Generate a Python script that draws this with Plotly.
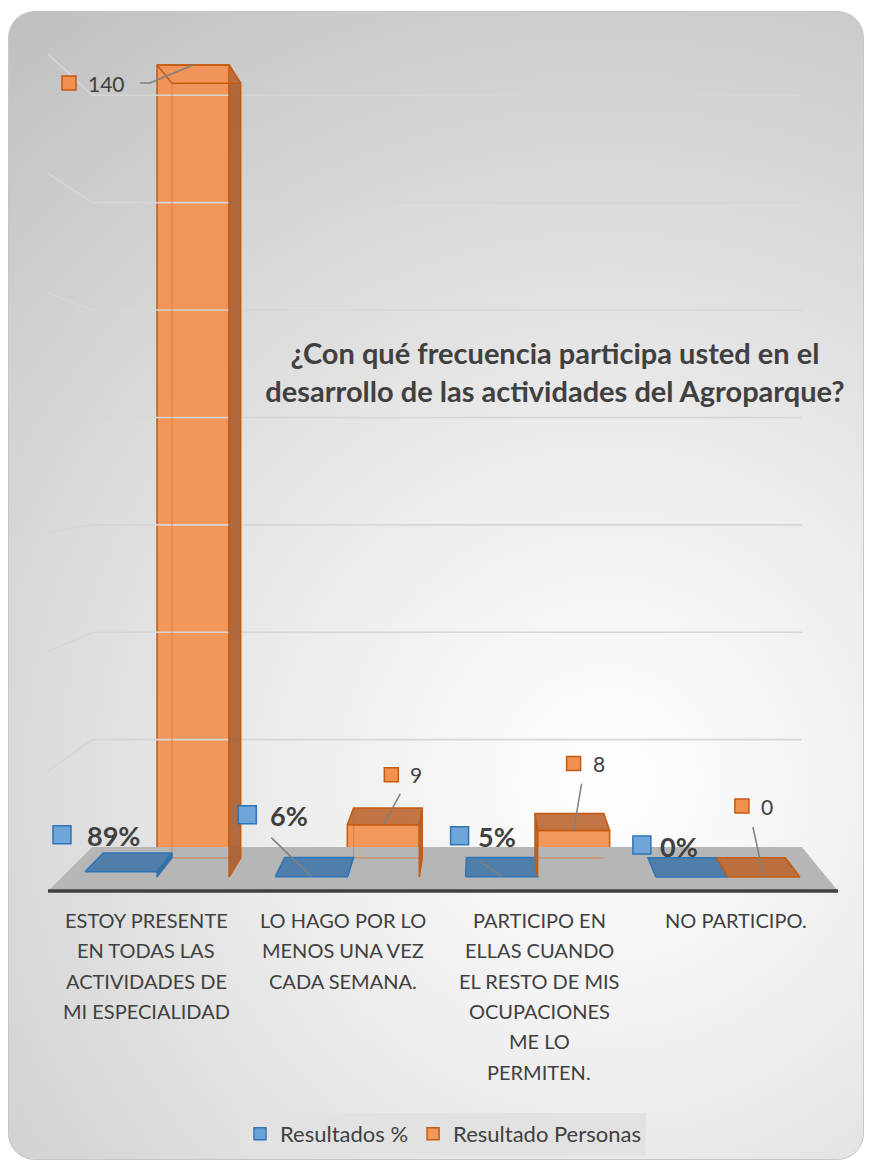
import urllib.parse
import plotly.graph_objects as go

# ---------------- data ----------------
categories = [
    "ESTOY PRESENTE<br>EN TODAS LAS<br>ACTIVIDADES DE<br>MI ESPECIALIDAD",
    "LO HAGO POR LO<br>MENOS UNA VEZ<br>CADA SEMANA.",
    "PARTICIPO EN<br>ELLAS CUANDO<br>EL RESTO DE MIS<br>OCUPACIONES<br>ME LO<br>PERMITEN.",
    "NO PARTICIPO.",
]
pct_values = [0.89, 0.06, 0.05, 0.0]
pct_labels = ["89%", "6%", "5%", "0%"]
people_values = [140, 9, 8, 0]
people_labels = ["140", "9", "8", "0"]
series_names = ["Resultados %", "Resultado Personas"]
title_text = "¿Con qué frecuencia participa usted en el<br>desarrollo de las actividades del Agroparque?"
wall_ticks = [20, 40, 60, 80, 100, 120, 140]

# ---------------- geometry / style (page pixels) ----------------
OFF = 8                                   # page body margin
W, H = 856, 1152
PL, PR, PT, PB = 44, 842, 40, 895          # plot area in page pixels
X0PX, XSTEP = 157.0, 190.3                 # category 0 centre, px per category
Y0PX, YSTEP = 877.0, 5.8                   # value 0 baseline, px per unit
BARGAP = 0.243
BW = (1 - BARGAP) / 2
K_BAR, K_WALL, K_FRONT = 0.954, 0.898, 1 / 0.9675
WALL_SCALE = 5.98 / 5.8

def dx(px):
    return (px - X0PX) / XSTEP

def dy(py):
    return (Y0PX - py) / YSTEP

VP = (dx(483), dy(460))                   # vanishing point (data units)

def proj(pt, k):
    return (VP[0] + k * (pt[0] - VP[0]), VP[1] + k * (pt[1] - VP[1]))

XR = [dx(PL), dx(PR)]
YR = [dy(PB), dy(PT)]
FLOOR_Y = dy(891)
FLOOR_X = [dx(48), dx(838)]

TXT = "#404040"
FONT = "Lato"
BLUE_LINE, ORANGE_LINE = "#2e75b6", "#c55a11"

# label placement (pixel offsets of the legend-key square from bar front-top centre)
pct_sq_off = [(-59, -37), (-64, -62), (-42, -41), (-50, -32)]
pct_txt_shift = [23, 21, 16, 16]
pct_leader = [None, (24, 23), (21, 26), None]
ppl_sq_off = [(-124, 18), (8, -50), (0, -67), (-22, -71)]
ppl_leader = [[(71, 0), (81, 0)], [(9, 19)], [(8, 20)], [(11, 21)]]

fig = go.Figure()

# ----- back wall gridlines (with left-wall perspective segment) -----
gx, gy = [], []
for w in wall_ticks:
    yf = FLOOR_Y + w * WALL_SCALE
    a = (FLOOR_X[0], yf)
    b = proj(a, K_WALL)
    c = proj((FLOOR_X[1], yf), K_WALL)
    gx += [a[0], b[0], c[0], None]
    gy += [a[1], b[1], c[1], None]
fig.add_trace(go.Scatter(x=gx, y=gy, mode="lines", line=dict(color="#d6d6d6", width=1.6),
                         hoverinfo="skip", showlegend=False))

# ----- floor -----
fl = [(FLOOR_X[0], FLOOR_Y), (FLOOR_X[1], FLOOR_Y)]
fb = [proj(p, K_WALL) for p in fl]
poly = [fl[0], fl[1], fb[1], fb[0], fl[0]]
fig.add_trace(go.Scatter(x=[p[0] for p in poly], y=[p[1] for p in poly], mode="lines",
                         fill="toself", fillcolor="#b6b6b6", line=dict(width=0),
                         hoverinfo="skip", showlegend=False))
fig.add_trace(go.Scatter(x=FLOOR_X, y=[FLOOR_Y, FLOOR_Y], mode="lines",
                         line=dict(color="#404040", width=3.5), hoverinfo="skip", showlegend=False))

# ----- bars (front faces) -----
xs = list(range(len(categories)))
fig.add_trace(go.Bar(x=xs, y=pct_values, name=series_names[0], offsetgroup="a",
                     marker=dict(color="rgba(91,155,213,0.9)", line=dict(color=BLUE_LINE, width=1.5))))
fig.add_trace(go.Bar(x=xs, y=people_values, name=series_names[1], offsetgroup="b",
                     marker=dict(color="rgba(241,146,84,0.95)", line=dict(color=ORANGE_LINE, width=1.5))))

# ----- 3D faces built from the same values -----
def add_poly(store, pts):
    for p in pts + [pts[0]]:
        store[0].append(p[0]); store[1].append(p[1])
    store[0].append(None); store[1].append(None)

faces = {
    ("top", 0): ([], []), ("top", 1): ([], []),
    ("side", 0): ([], []), ("side", 1): ([], []),
    ("under", 1): ([], []),
}
back_edges = {0: ([], []), 1: ([], [])}
for j, vals in enumerate([pct_values, people_values]):
    for i, v in enumerate(vals):
        c = i + (j - 0.5) * BW
        x0, x1 = c - BW / 2, c + BW / 2
        ftl, ftr, fbl, fbr = (x0, v), (x1, v), (x0, 0), (x1, 0)
        btl, btr, bbl, bbr = [proj(p, K_BAR) for p in (ftl, ftr, fbl, fbr)]
        if v < VP[1]:
            add_poly(faces[("top", j)], [ftl, ftr, btr, btl])
        else:
            add_poly(faces[("under", 1)], [ftl, ftr, btr, btl])
        if v > 0:
            if x1 < VP[0]:
                add_poly(faces[("side", j)], [ftr, btr, bbr, fbr])
            elif x0 > VP[0]:
                add_poly(faces[("side", j)], [ftl, btl, bbl, fbl])
            be = back_edges[j]
            be[0].extend([btl[0], bbl[0], bbr[0], None])
            be[1].extend([btl[1], bbl[1], bbr[1], None])

for j, col in [(0, "rgba(160,195,225,0.6)"), (1, "rgba(225,115,45,0.6)")]:
    fig.add_trace(go.Scatter(x=back_edges[j][0], y=back_edges[j][1], mode="lines",
                             line=dict(color=col, width=1.2), hoverinfo="skip", showlegend=False))

face_style = {
    ("top", 0): ("rgba(72,122,170,0.92)", BLUE_LINE),
    ("top", 1): ("rgba(188,104,52,0.92)", ORANGE_LINE),
    ("side", 0): ("rgba(50,100,150,0.9)", BLUE_LINE),
    ("side", 1): ("rgba(170,95,50,0.92)", ORANGE_LINE),
    ("under", 1): ("rgba(241,146,84,0.15)", ORANGE_LINE),
}
for key, (fc, lc) in face_style.items():
    fxs, fys = faces[key]
    if not fxs:
        continue
    fig.add_trace(go.Scatter(x=fxs, y=fys, mode="lines", fill="toself", fillcolor=fc,
                             line=dict(color=lc, width=1.5), hoverinfo="skip", showlegend=False))

# ----- data labels -----
ann = []
sq = {0: ([], []), 1: ([], [])}
lead_x, lead_y = [], []
for j, (vals, labels, sqoff) in enumerate([(pct_values, pct_labels, pct_sq_off),
                                           (people_values, people_labels, ppl_sq_off)]):
    for i, v in enumerate(vals):
        cx = i + (j - 0.5) * BW
        sx = cx + sqoff[i][0] / XSTEP
        sy = v - sqoff[i][1] / YSTEP
        sq[j][0].append(sx); sq[j][1].append(sy)
        if j == 0:
            ann.append(dict(x=sx, y=sy, text=labels[i], xanchor="left", yanchor="middle",
                            xshift=pct_txt_shift[i], yshift=-1, showarrow=False,
                            font=dict(family=FONT, size=27, color=TXT, weight="bold")))
            ld = pct_leader[i]
            if ld is not None:
                lead_x += [sx + ld[0] / XSTEP, cx, None]
                lead_y += [sy - ld[1] / YSTEP, v, None]
        else:
            ann.append(dict(x=sx, y=sy, text=labels[i], xanchor="left", yanchor="middle",
                            xshift=17, yshift=0, showarrow=False,
                            font=dict(family=FONT, size=21, color=TXT)))
            pts = ppl_leader[i]
            for p in pts:
                lead_x.append(sx + p[0] / XSTEP)
                lead_y.append(sy - p[1] / YSTEP)
            lead_x += [cx, None]
            lead_y += [v, None]

fig.add_trace(go.Scatter(x=lead_x, y=lead_y, mode="lines", line=dict(color="#7f7f7f", width=1.5),
                         hoverinfo="skip", showlegend=False))
fig.add_trace(go.Scatter(x=sq[0][0], y=sq[0][1], mode="markers", hoverinfo="skip", showlegend=False,
                         marker=dict(symbol="square", size=18, color="#6fa5d9",
                                     line=dict(color=BLUE_LINE, width=1.5))))
fig.add_trace(go.Scatter(x=sq[1][0], y=sq[1][1], mode="markers", hoverinfo="skip", showlegend=False,
                         marker=dict(symbol="square", size=14, color="#f0914f",
                                     line=dict(color=ORANGE_LINE, width=1.5))))

# ----- category labels (one annotation per line, on the front edge) -----
for i, cat in enumerate(categories):
    lx = proj((i, 0), K_FRONT)[0]
    for k, line in enumerate(cat.split("<br>")):
        ann.append(dict(x=lx, xref="x", y=0, yref="paper", yanchor="middle", xanchor="center",
                        yshift=-(920 - PB) - 30.3 * k, text=line, showarrow=False,
                        font=dict(family=FONT, size=20, color=TXT)))

# ----- card background (radial gradient) -----
cw, ch = 856, 1149
svg = (
    f"<svg xmlns='http://www.w3.org/2000/svg' width='{cw}' height='{ch}' viewBox='0 0 {cw} {ch}' "
    f"preserveAspectRatio='none'><defs><radialGradient id='g' gradientUnits='userSpaceOnUse' "
    f"cx='600' cy='770' r='960'><stop offset='0' stop-color='#ffffff'/>"
    f"<stop offset='0.35' stop-color='#ececec'/><stop offset='1' stop-color='#c0c0c0'/></radialGradient></defs>"
    f"<rect x='0.5' y='0.5' width='{cw-1}' height='{ch-1}' rx='26' ry='26' fill='url(#g)' "
    f"stroke='#c6c6c6' stroke-width='1'/></svg>"
)
src = "data:image/svg+xml;charset=utf-8," + urllib.parse.quote(svg)
pw, ph = PR - PL, PB - PT
img = dict(source=src, xref="paper", yref="paper", x=(8 - PL) / pw, y=(PB - 11) / ph,
           sizex=cw / pw, sizey=ch / ph, sizing="stretch", xanchor="left", yanchor="top",
           layer="below")

fig.update_layout(
    width=W, height=H,
    margin=dict(l=PL - OFF, r=OFF + W - PR, t=PT - OFF, b=OFF + H - PB, pad=0, autoexpand=False),
    paper_bgcolor="white", plot_bgcolor="rgba(0,0,0,0)",
    barmode="group", bargap=BARGAP, bargroupgap=0,
    xaxis=dict(range=XR, showgrid=False, zeroline=False, showticklabels=False, showline=False,
               fixedrange=True),
    yaxis=dict(range=YR, showgrid=False, zeroline=False, showticklabels=False, showline=False,
               fixedrange=True),
    title=dict(text=title_text, x=(555 - OFF) / W, y=1 - (373 - OFF - 9) / H,
               xanchor="center", yanchor="middle",
               font=dict(family=FONT, size=29, color=TXT, weight="bold")),
    legend=dict(orientation="h", x=0.5, y=(PB - 1134) / ph, xanchor="center", yanchor="middle",
                bgcolor="#e2e2e2", font=dict(family=FONT, size=22, color=TXT),
                itemwidth=30, tracegroupgap=0),
    annotations=ann,
    images=[img],
    showlegend=True,
)

fig.write_html("out.html")
